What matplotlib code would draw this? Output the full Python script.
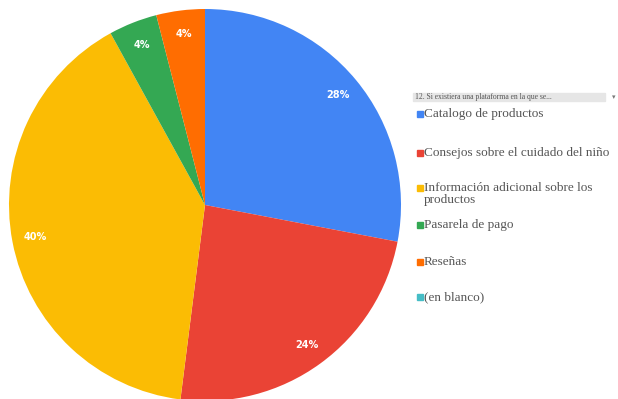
import matplotlib.pyplot as plt
from matplotlib.patches import Rectangle

labels = ['Catalogo de productos', 'Consejos sobre el cuidado del niño',
          'Información adicional sobre los\nproductos', 'Pasarela de pago',
          'Reseñas', '(en blanco)']
values = [28, 24, 40, 4, 4, 0]
colors = ['#4285F4', '#EA4335', '#FBBC04', '#34A853', '#FF6D01', '#46BDC6']
header = '12. Si existiera una plataforma en la que se...'

fig = plt.figure(figsize=(6.18, 3.99), dpi=100)
ax = fig.add_axes([9 / 618, -2 / 399, 392 / 618, 392 / 399])

# only non-empty slices go into the pie
pie_vals = [v for v in values if v > 0]
pie_cols = [c for v, c in zip(values, colors) if v > 0]
ax.pie(pie_vals, colors=pie_cols, startangle=90, counterclock=False,
       autopct='%.0f%%', pctdistance=0.88, radius=1,
       textprops={'color': 'white', 'fontsize': 7, 'fontweight': 'bold'})
ax.set_xlim(-1, 1)
ax.set_ylim(-1, 1)
ax.set_aspect('equal')
ax.axis('off')

# legend header bar
W, H = 618, 399
fig.patches.append(Rectangle((413 / W, 1 - 101 / H), 192 / W, 8 / H,
                             transform=fig.transFigure, color='#e6e6e6', zorder=0))
fig.text(415 / W, 1 - 97 / H, header, fontsize=5.5, family='Liberation Serif',
         color='#555555', va='center')
fig.text(612 / W, 1 - 97 / H, '▾', fontsize=5, color='#777777', va='center')

# legend entries
ys = [114, 153, 188, 225, 262, 297]
for lab, col, y in zip(labels, colors, ys):
    fig.patches.append(Rectangle((417 / W, 1 - (y + 3) / H), 6 / W, 6 / H,
                                 transform=fig.transFigure, color=col))
    multi = '\n' in lab
    fig.text(424 / W, 1 - (y - 6 if multi else y) / H, lab, fontsize=9.5,
             family='Liberation Serif', color='#555555',
             va='top' if multi else 'center', linespacing=0.95)

fig.savefig('out.png', dpi=100)
